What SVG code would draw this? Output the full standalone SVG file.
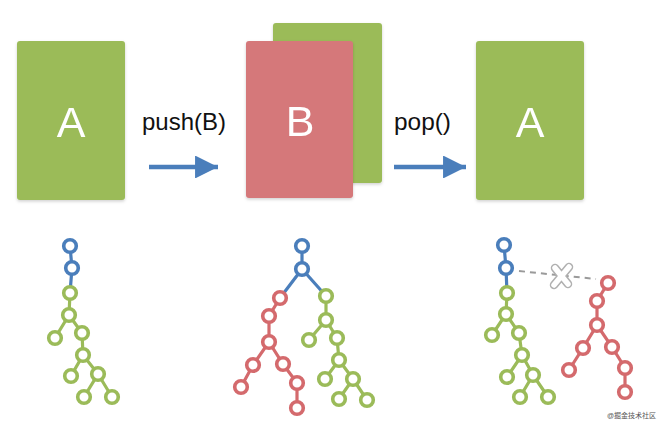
<svg xmlns="http://www.w3.org/2000/svg" width="662" height="429" viewBox="0 0 662 429">
<defs>
<filter id="sh" x="-10%" y="-10%" width="130%" height="130%">
<feDropShadow dx="0" dy="1.5" stdDeviation="1.5" flood-color="#000" flood-opacity="0.18"/>
</filter>
<marker id="ah" viewBox="0 0 10 10" refX="10" refY="5" markerWidth="5.1" markerHeight="5.1" markerUnits="strokeWidth" orient="auto">
<path d="M0,0 L10,5 L0,10 Z" fill="#4a7ebb"/>
</marker>
</defs>
<style>
.card-g{fill:#9bbb59}
.card-r{fill:#d5787a}
.big{font-family:"Liberation Sans",Arial,sans-serif;font-size:43px;fill:#fff;text-anchor:middle}
.lbl{font-family:"Liberation Sans",Arial,sans-serif;font-size:24px;fill:#111}
.arr{stroke:#4a7ebb;stroke-width:4.5;fill:none}
.nb{fill:#fff;stroke:#4a7ebb;stroke-width:3.6}
.ng{fill:#fff;stroke:#9bbb59;stroke-width:3.6}
.nr{fill:#fff;stroke:#d46a6d;stroke-width:3.6}
.eb{stroke:#4a7ebb;stroke-width:3.2;fill:none}
.eg{stroke:#9bbb59;stroke-width:3.2;fill:none}
.er{stroke:#d46a6d;stroke-width:3.2;fill:none}
.wm{font-family:"Liberation Sans","Noto Sans CJK SC",sans-serif;font-size:7px;fill:#555}
</style>
<rect width="662" height="429" fill="#fff"/>

<g id="card-a1" filter="url(#sh)">
<rect class="card-g" x="17" y="41" width="108" height="159" rx="3"/>
<text class="big" x="71" y="137">A</text>
</g>
<g id="card-b-back" filter="url(#sh)">
<rect class="card-g" x="273" y="23" width="109" height="160" rx="3"/>
</g>
<g id="card-b" filter="url(#sh)">
<rect class="card-r" x="246" y="41" width="107" height="157" rx="3"/>
<text class="big" x="300" y="136">B</text>
</g>
<g id="card-a2" filter="url(#sh)">
<rect class="card-g" x="476" y="41" width="108" height="159" rx="3"/>
<text class="big" x="530" y="137">A</text>
</g>

<g id="label-push"><text class="lbl" x="142" y="130" textLength="84" lengthAdjust="spacingAndGlyphs">push(B)</text></g>
<g id="label-pop"><text class="lbl" x="394" y="130" textLength="57" lengthAdjust="spacingAndGlyphs">pop()</text></g>

<g id="connectors">
<line class="arr" x1="149" y1="167" x2="218" y2="167" marker-end="url(#ah)"/>
<line class="arr" x1="394" y1="167" x2="466" y2="167" marker-end="url(#ah)"/>
</g>

<g id="tree-left">
<path class="eb" d="M70,246 L72,268 L70,293"/>
<path class="eg" d="M70,293 L69,315 L55,338 M69,315 L82,333 L83,355 L71,376 M83,355 L98,374 L84,397 M98,374 L112,397"/>
<circle class="nb" cx="70" cy="246" r="6.3"/>
<circle class="nb" cx="72" cy="268" r="6.3"/>
<circle class="ng" cx="70" cy="293" r="6.3"/>
<circle class="ng" cx="69" cy="315" r="6.3"/>
<circle class="ng" cx="55" cy="338" r="6.3"/>
<circle class="ng" cx="82" cy="333" r="6.3"/>
<circle class="ng" cx="83" cy="355" r="6.3"/>
<circle class="ng" cx="71" cy="376" r="6.3"/>
<circle class="ng" cx="98" cy="374" r="6.3"/>
<circle class="ng" cx="84" cy="397" r="6.3"/>
<circle class="ng" cx="112" cy="397" r="6.3"/>
</g>

<g id="tree-middle">
<path class="eb" d="M302,246 L302,269 M302,269 L280,298 M302,269 L326,296"/>
<path class="er" d="M280,298 L269,316 L269,342 L253,365 L241,387 M269,342 L283,364 L297,383 L297,408"/>
<path class="eg" d="M326,296 L326,320 L309,340 M326,320 L337,338 L339,360 L325,379 M339,360 L353,379 L339,399 M353,379 L367,400"/>
<circle class="nb" cx="302" cy="246" r="6.3"/>
<circle class="nb" cx="302" cy="269" r="6.3"/>
<circle class="nr" cx="280" cy="298" r="6.3"/>
<circle class="nr" cx="269" cy="316" r="6.3"/>
<circle class="nr" cx="269" cy="342" r="6.3"/>
<circle class="nr" cx="253" cy="365" r="6.3"/>
<circle class="nr" cx="283" cy="364" r="6.3"/>
<circle class="nr" cx="241" cy="387" r="6.3"/>
<circle class="nr" cx="297" cy="383" r="6.3"/>
<circle class="nr" cx="297" cy="408" r="6.3"/>
<circle class="ng" cx="326" cy="296" r="6.3"/>
<circle class="ng" cx="326" cy="320" r="6.3"/>
<circle class="ng" cx="309" cy="340" r="6.3"/>
<circle class="ng" cx="337" cy="338" r="6.3"/>
<circle class="ng" cx="339" cy="360" r="6.3"/>
<circle class="ng" cx="325" cy="379" r="6.3"/>
<circle class="ng" cx="353" cy="379" r="6.3"/>
<circle class="ng" cx="339" cy="399" r="6.3"/>
<circle class="ng" cx="367" cy="400" r="6.3"/>
</g>

<g id="tree-right">
<line x1="519" y1="271" x2="596" y2="279" stroke="#9a9a9a" stroke-width="2" stroke-dasharray="6 5"/>
<path class="eb" d="M504,245 L506,268 L507,293"/>
<path class="eg" d="M507,293 L506,314 L492,335 M506,314 L519,333 L522,355 L507,377 M522,355 L533,375 L520,397 M533,375 L548,397"/>
<path class="er" d="M608,283 L597,301 L597,325 L583,348 L569,370 M597,325 L612,347 L625,368 L625,392"/>
<circle class="nb" cx="504" cy="245" r="6.3"/>
<circle class="nb" cx="506" cy="268" r="6.3"/>
<circle class="ng" cx="507" cy="293" r="6.3"/>
<circle class="ng" cx="506" cy="314" r="6.3"/>
<circle class="ng" cx="492" cy="335" r="6.3"/>
<circle class="ng" cx="519" cy="333" r="6.3"/>
<circle class="ng" cx="522" cy="355" r="6.3"/>
<circle class="ng" cx="507" cy="377" r="6.3"/>
<circle class="ng" cx="533" cy="375" r="6.3"/>
<circle class="ng" cx="520" cy="397" r="6.3"/>
<circle class="ng" cx="548" cy="397" r="6.3"/>
<circle class="nr" cx="608" cy="283" r="6.3"/>
<circle class="nr" cx="597" cy="301" r="6.3"/>
<circle class="nr" cx="597" cy="325" r="6.3"/>
<circle class="nr" cx="583" cy="348" r="6.3"/>
<circle class="nr" cx="612" cy="347" r="6.3"/>
<circle class="nr" cx="569" cy="370" r="6.3"/>
<circle class="nr" cx="625" cy="368" r="6.3"/>
<circle class="nr" cx="625" cy="392" r="6.3"/>
<g id="cut-mark">
<path d="M555,268 L568,284 M569,267 L554,285" stroke="#b0b0b0" stroke-width="8.5" stroke-linecap="round"/>
<path d="M555,268 L568,284 M569,267 L554,285" stroke="#fff" stroke-width="5.5" stroke-linecap="round"/>
</g>
</g>

<text class="wm" x="607" y="418">@掘金技术社区</text>
</svg>
